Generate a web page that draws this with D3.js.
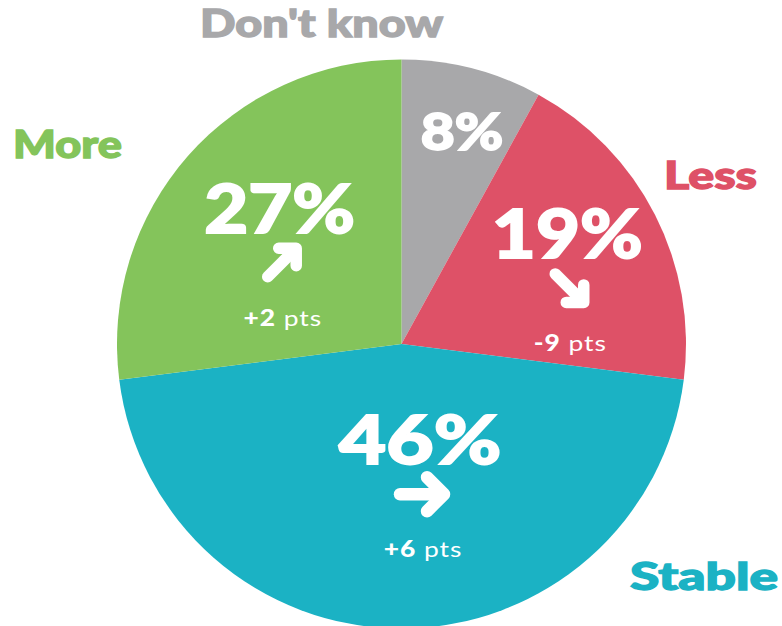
<!DOCTYPE html>
<html>
<head>
<meta charset="utf-8">
<script src="https://cdn.jsdelivr.net/npm/d3@7"></script>
<style>
  html, body { margin: 0; padding: 0; background: #fff; }
  svg { display: block; }
  text { font-family: "Lato", "Open Sans", sans-serif; }
</style>
</head>
<body>
<div id="chart"></div>
<script>
// data
var categories = ["Don't know", "Less", "Stable", "More"];
var shares     = [8, 19, 46, 27];
var changes    = ["", "-9", "+6", "+2"];
var trends     = ["none", "down", "flat", "up"];
var colors     = ["#a8a8aa", "#de5167", "#1bb2c4", "#84c45b"];

var W = 782, H = 626;
var cx = 401.5, cy = 344, R = 284.5;

var svg = d3.select("#chart").append("svg")
  .attr("width", W).attr("height", H);

var pie = d3.pie().sort(null).value(function(d) { return d.v; });
var arc = d3.arc().innerRadius(0).outerRadius(R);

var rows = categories.map(function(c, i) {
  return { name: c, v: shares[i], change: changes[i], trend: trends[i], color: colors[i] };
});
var arcs = pie(rows);

var g = svg.append("g").attr("transform", "translate(" + cx + "," + cy + ")");

g.selectAll("path.slice")
  .data(arcs)
  .enter().append("path")
    .attr("class", "slice")
    .attr("d", arc)
    .attr("fill", function(d) { return d.data.color; });

// label placement per slice: radius + angle (deg, clockwise from top), text stretch
var labelPos = {
  "Don't know": { r: 221, a: 15.9,  sx: 1.15 },
  "Less":       { r: 199, a: 56.4,  sx: 1.15 },
  "Stable":     { r: 98,  a: 169.1, sx: 1.24 },
  "More":       { r: 182, a: 318.0, sx: 1.15 }
};

var arrowPaths = {
  up:   { w: 11.5, shaft: "M-14,14 L13,-13", head: "M-3,-14.5 L14.5,-14.5 L14.5,3" },
  down: { w: 11.5, shaft: "M-14,-14 L13,13", head: "M14.5,-3 L14.5,14.5 L-3,14.5" },
  flat: { w: 12.5, shaft: "M-22,0 L21,0",    head: "M5,-17 L22,0 L5,17" }
};

var labels = g.selectAll("g.lab")
  .data(arcs)
  .enter().append("g")
    .attr("class", "lab")
    .attr("transform", function(d) {
      var p = labelPos[d.data.name];
      var a = p.a * Math.PI / 180;
      return "translate(" + (p.r * Math.sin(a)) + "," + (-p.r * Math.cos(a)) + ")";
    });

labels.append("text")
  .attr("text-anchor", "middle")
  .attr("transform", function(d) {
    return "translate(0," + (d.data.v < 10 ? 18.5 : 24) + ") scale(" + labelPos[d.data.name].sx + ",1)";
  })
  .attr("fill", "#fff")
  .attr("stroke", "#fff")
  .attr("stroke-width", 1.8)
  .attr("font-weight", 900)
  .attr("font-size", function(d) { return d.data.v < 10 ? 51 : 66; })
  .text(function(d) { return d.data.v + "%"; });

labels.filter(function(d) { return d.data.trend !== "none"; })
  .each(function(d) {
    var sel = d3.select(this);
    var ap = arrowPaths[d.data.trend];
    var ag = sel.append("g")
      .attr("transform", "translate(2,54)");
    ag.append("path").attr("d", ap.shaft);
    ag.append("path").attr("d", ap.head);
    ag.selectAll("path")
      .attr("fill", "none")
      .attr("stroke", "#fff")
      .attr("stroke-width", ap.w)
      .attr("stroke-linecap", "round")
      .attr("stroke-linejoin", "round");

    var t = sel.append("text")
      .attr("text-anchor", "middle")
      .attr("transform", "translate(3,117) scale(1.2,1)")
      .attr("fill", "#fff")
      .attr("letter-spacing", 0.8)
      .attr("font-size", 22);
    t.append("tspan").attr("font-weight", 900).text(d.data.change);
    t.append("tspan").attr("font-weight", 400).text(" pts");
  });

// outer category labels: left edge, baseline, width
var outer = [
  { name: "Don't know", x: 200, y: 37,  w: 243 },
  { name: "More",       x: 13,  y: 158, w: 109 },
  { name: "Less",       x: 664, y: 189, w: 93 },
  { name: "Stable",     x: 630, y: 590, w: 148 }
];

svg.selectAll("text.cat")
  .data(outer)
  .enter().append("text")
    .attr("class", "cat")
    .attr("x", function(d) { return d.x; })
    .attr("y", function(d) { return d.y; })
    .attr("textLength", function(d) { return d.w; })
    .attr("lengthAdjust", "spacingAndGlyphs")
    .attr("font-weight", 900)
    .attr("font-size", 37)
    .attr("stroke-width", 1.3)
    .attr("fill", function(d) { return colors[categories.indexOf(d.name)]; })
    .attr("stroke", function(d) { return colors[categories.indexOf(d.name)]; })
    .text(function(d) { return d.name; });
</script>
</body>
</html>
